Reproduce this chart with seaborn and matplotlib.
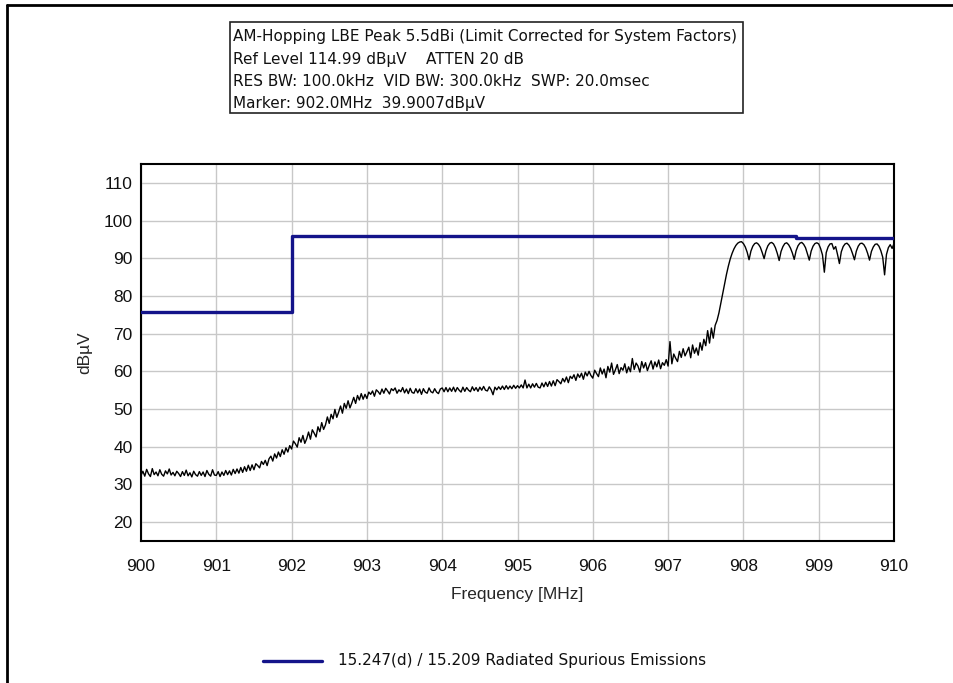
import numpy as np
import pandas as pd
import matplotlib
matplotlib.use("Agg")
import matplotlib.pyplot as plt
from matplotlib.lines import Line2D
from matplotlib.patches import Rectangle
from matplotlib.ticker import MultipleLocator
import seaborn as sns

# Peak trace, 401 sweep points from 900 to 910 MHz (dBuV)
trace_level = [
    32.4, 33.5, 32.2, 34.0, 32.8, 32.1, 34.2, 32.6, 33.3, 32.3, 33.9, 32.7, 32.2, 33.6, 32.8, 34.1, 32.5, 33.2, 32.3, 33.5,
    32.9, 32.1, 33.4, 32.4, 33.8, 32.3, 33.1, 32.0, 33.5, 32.6, 32.2, 33.4, 32.4, 33.3, 32.1, 33.7, 32.7, 32.2, 33.9, 32.5,
    32.4, 33.4, 32.1, 33.3, 32.4, 33.7, 32.6, 33.6, 32.5, 34.0, 32.9, 34.1, 33.0, 34.5, 33.2, 34.7, 33.5, 35.1, 33.7, 35.2,
    33.9, 35.5, 35.0, 34.4, 36.1, 35.3, 36.4, 35.0, 36.8, 37.5, 36.2, 38.1, 37.0, 38.6, 37.4, 39.2, 38.0, 39.7, 38.6, 40.3,
    39.4, 41.5, 40.8, 39.9, 42.4, 41.2, 43.0, 40.9, 42.1, 43.9, 42.0, 44.5, 43.6, 42.6, 45.3, 44.0, 46.4, 44.6, 45.8, 47.9,
    46.2, 48.6, 47.4, 49.9, 47.8, 49.2, 50.8, 48.9, 51.5, 50.2, 52.2, 50.3, 51.6, 53.1, 51.5, 53.6, 52.4, 54.1, 52.6, 53.9,
    52.8, 54.5, 53.9, 54.8, 53.4, 55.1, 54.6, 53.9, 55.3, 54.2, 55.5, 54.8, 54.0, 55.4, 54.9, 55.6, 54.2, 55.1, 54.6, 55.7,
    54.3, 55.3, 54.1, 55.5, 54.4, 54.2, 55.4, 54.3, 55.3, 53.9, 55.4, 54.5, 54.2, 55.6, 54.6, 54.3, 55.4, 54.5, 54.1, 55.3,
    55.6, 54.6, 55.7, 54.6, 55.6, 54.7, 55.8, 54.6, 55.7, 55.0, 54.5, 55.8, 54.7, 55.7, 55.0, 54.6, 55.9, 54.9, 55.7, 54.7,
    55.8, 55.0, 56.0, 55.0, 54.8, 55.9, 55.1, 53.8, 55.8, 55.1, 55.9, 55.2, 56.1, 55.2, 56.2, 55.3, 56.1, 55.4, 56.3, 55.5,
    56.2, 55.6, 56.4, 55.6, 57.7, 55.6, 56.6, 55.6, 56.7, 55.8, 56.8, 55.8, 55.6, 56.9, 55.9, 57.1, 56.0, 57.3, 56.1, 57.5,
    56.2, 57.8, 57.3, 56.7, 58.1, 57.2, 58.5, 57.0, 58.7, 58.1, 59.1, 57.6, 59.3, 58.4, 59.5, 57.9, 59.8, 58.8, 60.0, 58.9,
    58.2, 60.3, 59.4, 58.6, 60.9, 59.3, 60.6, 58.3, 61.3, 59.8, 62.2, 59.2, 60.4, 61.8, 59.4, 61.0, 60.3, 62.0, 59.6, 61.2,
    59.9, 63.4, 60.5, 62.2, 61.4, 59.8, 62.6, 60.9, 62.3, 60.2, 61.6, 62.8, 60.6, 62.5, 61.2, 63.0, 60.7, 62.3, 61.6, 63.1,
    61.4, 67.9, 62.0, 64.6, 63.5, 62.6, 65.3, 63.7, 66.0, 64.1, 65.2, 66.4, 63.6, 67.0, 64.8, 66.2, 64.3, 67.6, 65.6, 68.5,
    66.8, 70.8, 67.5, 71.5, 68.8, 72.2, 73.5, 75.5, 78.0, 80.6, 83.2, 85.7, 87.9, 89.8, 91.3, 92.5, 93.4, 94.0, 94.3, 94.4,
    93.9, 93.0, 91.6, 89.6, 91.9, 93.2, 93.9, 94.1, 93.7, 92.9, 91.5, 89.9, 92.0, 93.3, 94.0, 94.2, 93.8, 92.8, 91.3, 89.4,
    91.8, 93.1, 93.9, 94.1, 93.6, 92.7, 91.4, 89.7, 92.0, 93.3, 94.0, 94.2, 93.7, 92.8, 91.2, 89.5, 91.9, 93.2, 93.9, 94.1,
    93.8, 92.6, 90.9, 86.3, 91.5, 93.0, 93.8, 93.9, 92.4, 93.1, 91.0, 88.6, 91.7, 93.1, 93.8, 94.0, 93.5, 92.6, 91.2, 89.6,
    91.9, 93.2, 93.9, 94.0, 93.6, 92.7, 91.3, 89.5, 91.8, 93.0, 93.7, 93.8, 93.2, 92.0, 90.3, 85.6, 91.0, 92.8, 93.6, 92.6,
    93.9,
]
trace_freq = np.linspace(900.0, 910.0, len(trace_level))

# 15.247(d) / 15.209 limit line (MHz, dBuV)
limit_freq = [900.0, 902.0, 902.0, 908.7, 908.7, 910.0]
limit_level = [75.8, 75.8, 96.0, 96.0, 95.3, 95.3]

x_ticks = [900, 901, 902, 903, 904, 905, 906, 907, 908, 909, 910]
y_ticks = [20, 30, 40, 50, 60, 70, 80, 90, 100, 110]

header_lines = [
    "AM-Hopping LBE Peak 5.5dBi (Limit Corrected for System Factors)",
    "Ref Level 114.99 dB\u00b5V    ATTEN 20 dB",
    "RES BW: 100.0kHz  VID BW: 300.0kHz  SWP: 20.0msec",
    "Marker: 902.0MHz  39.9007dB\u00b5V",
]
legend_label = "15.247(d) / 15.209 Radiated Spurious Emissions"

sns.set_style("white")
plt.rcParams["font.family"] = ["Liberation Sans", "DejaVu Sans"]
box_font = ["DejaVu Sans"]

W, H = 954, 683
fig = plt.figure(figsize=(W / 100, H / 100), dpi=100)
fig.patch.set_facecolor("white")

def fx(px):
    return px / W

def fy(py):
    return 1 - py / H

ax = fig.add_axes([fx(141), fy(541), fx(894) - fx(141), fy(164) - fy(541)])

trace_df = pd.DataFrame({"freq": trace_freq, "level": trace_level})
limit_df = pd.DataFrame({"freq": limit_freq, "level": limit_level})

sns.lineplot(data=trace_df, x="freq", y="level", ax=ax, color="black",
             linewidth=1.0, sort=False, estimator=None, zorder=3)
sns.lineplot(data=limit_df, x="freq", y="level", ax=ax, color="#14148a",
             linewidth=2.4, sort=False, estimator=None, zorder=4)

ax.set_xlim(900, 910)
ax.set_ylim(15, 115)
ax.set_xticks(x_ticks)
ax.set_yticks(y_ticks)
ax.xaxis.set_minor_locator(MultipleLocator(0.5))
ax.yaxis.set_minor_locator(MultipleLocator(5))
ax.tick_params(axis="both", which="both", direction="inout", length=8,
               width=1.2, color="black", labelsize=12.5, labelcolor="#111111")
ax.tick_params(axis="x", which="major", pad=9)
ax.tick_params(axis="y", which="major", pad=2)
ax.grid(True, which="major", color="#c8c8c8", linewidth=1.0)
for s in ax.spines.values():
    s.set_color("black")
    s.set_linewidth(1.5)

ax.set_xlabel("Frequency [MHz]", fontsize=12.5, labelpad=9)
ax.set_ylabel("dB\u00b5V", fontsize=12.5, labelpad=8)

# outer frame of the window
fig.add_artist(Line2D([fx(7), fx(7)], [fy(5), 0], color="black", linewidth=2.0))
fig.add_artist(Line2D([fx(7), 1], [fy(5), fy(5)], color="black", linewidth=2.0))

# header box
fig.add_artist(Rectangle((fx(230), fy(113)), fx(743) - fx(230), fy(22) - fy(113),
                         transform=fig.transFigure, facecolor="white",
                         edgecolor="#222222", linewidth=1.2))
for i, line in enumerate(header_lines):
    fig.text(fx(233), fy(37 + 22.2 * i), line, fontsize=11.0, color="#111111",
             ha="left", va="center", family=box_font)

# legend entry
fig.add_artist(Line2D([fx(263), fx(322)], [fy(661), fy(661)], color="#14148a",
                      linewidth=2.4))
fig.text(fx(338), fy(661), legend_label, fontsize=11.0, color="#111111",
         ha="left", va="center", family=box_font)

fig.savefig("out.png", dpi=100, facecolor="white")
